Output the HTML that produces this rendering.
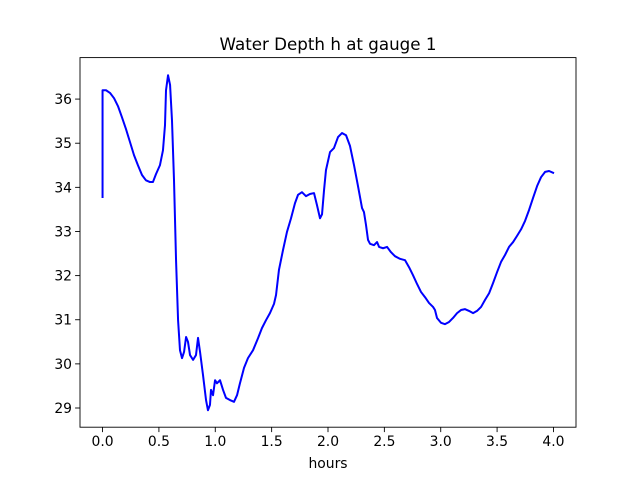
<!DOCTYPE html>
<html><head><meta charset="utf-8"><style>
body{margin:0;background:#fff}
svg{display:block;font-family:"DejaVu Sans","Liberation Sans",sans-serif}
</style></head><body>
<svg id="c" width="640" height="480">
<rect width="640" height="480" fill="#fff"/>
<text x="328" y="50" font-size="16.7" text-anchor="middle">Water Depth h at gauge 1</text>
<text x="328" y="468" font-size="13.9" text-anchor="middle">hours</text>
</svg>
<script>
const hours=[0.0,0.0,0.031,0.066,0.102,0.137,0.172,0.208,0.243,0.279,0.314,0.350,0.385,0.421,0.447,0.474,0.509,0.536,0.554,0.563,0.581,0.599,0.616,0.634,0.652,0.670,0.687,0.705,0.723,0.741,0.758,0.776,0.803,0.829,0.847,0.865,0.891,0.918,0.935,0.953,0.962,0.980,0.998,1.015,1.042,1.069,1.095,1.130,1.166,1.193,1.219,1.255,1.290,1.335,1.379,1.414,1.450,1.485,1.521,1.539,1.565,1.601,1.636,1.672,1.707,1.734,1.769,1.805,1.840,1.876,1.902,1.929,1.947,1.965,1.982,2.018,2.053,2.089,2.124,2.160,2.195,2.231,2.266,2.302,2.319,2.337,2.355,2.373,2.408,2.435,2.453,2.488,2.524,2.559,2.594,2.639,2.683,2.719,2.754,2.790,2.825,2.861,2.896,2.932,2.949,2.967,3.003,3.038,3.074,3.109,3.145,3.180,3.216,3.251,3.287,3.322,3.358,3.393,3.429,3.464,3.500,3.535,3.571,3.606,3.642,3.677,3.713,3.748,3.784,3.819,3.855,3.890,3.926,3.961,4.005];
const depth=[33.76,36.20,36.20,36.14,36.02,35.84,35.59,35.32,35.03,34.73,34.50,34.28,34.16,34.12,34.12,34.30,34.50,34.84,35.41,36.20,36.54,36.32,35.52,34.16,32.35,30.99,30.31,30.13,30.27,30.61,30.50,30.20,30.09,30.20,30.59,30.27,29.75,29.18,28.95,29.07,29.41,29.29,29.63,29.56,29.63,29.41,29.23,29.18,29.14,29.29,29.56,29.91,30.13,30.31,30.58,30.81,30.99,31.15,31.36,31.56,32.13,32.58,32.99,33.30,33.64,33.83,33.89,33.80,33.85,33.87,33.60,33.30,33.39,33.94,34.39,34.80,34.89,35.14,35.23,35.18,34.94,34.50,34.03,33.53,33.44,33.15,32.81,32.72,32.69,32.76,32.65,32.62,32.65,32.53,32.44,32.38,32.35,32.19,32.01,31.81,31.63,31.51,31.38,31.29,31.22,31.04,30.93,30.90,30.95,31.04,31.15,31.22,31.24,31.20,31.15,31.20,31.29,31.45,31.60,31.83,32.08,32.31,32.47,32.65,32.76,32.90,33.05,33.24,33.49,33.76,34.03,34.23,34.35,34.37,34.32];
const xTicks=[0,0.5,1,1.5,2,2.5,3,3.5,4];
const xTickLabels=["0.0","0.5","1.0","1.5","2.0","2.5","3.0","3.5","4.0"];
const yTicks=[29,30,31,32,33,34,35,36];
const yTickLabels=["29","30","31","32","33","34","35","36"];
const L=80,R=576,T=57.6,B=427.2,xmin=-0.2,xmax=4.2,ymin=28.565,ymax=36.94;
const sx=v=>L+(v-xmin)/(xmax-xmin)*(R-L);
const sy=v=>B-(v-ymin)/(ymax-ymin)*(B-T);
const svg=document.getElementById('c');
const NS='http://www.w3.org/2000/svg';
function mk(tag,attrs){const e=document.createElementNS(NS,tag);for(const k in attrs)e.setAttribute(k,attrs[k]);svg.appendChild(e);return e;}
let d='';
hours.forEach((h,i)=>{d+=(i?'L':'M')+sx(h).toFixed(2)+','+sy(depth[i]).toFixed(2);});
const line=mk('path',{d:d,fill:'none',stroke:'#0000ff','stroke-width':2,'stroke-linejoin':'round','stroke-linecap':'butt'});


const frame=mk('rect',{x:L,y:T,width:R-L,height:B-T,fill:'none',stroke:'#000','stroke-width':0.9});


xTicks.forEach((v,i)=>{
 const x=sx(v);
 const t=mk('line',{x1:x,x2:x,y1:B,y2:B+4.9,stroke:'#000','stroke-width':0.9});
 
 
 const l=mk('text',{x:x,y:B+19,'font-size':13.9,'text-anchor':'middle'});
 l.textContent=xTickLabels[i];
 
 
});
yTicks.forEach((v,i)=>{
 const y=sy(v);
 const t=mk('line',{x1:L-4.9,x2:L,y1:y,y2:y,stroke:'#000','stroke-width':0.9});
 
 
 const l=mk('text',{x:L-8,y:y+5,'font-size':13.9,'text-anchor':'end'});
 l.textContent=yTickLabels[i];
 
 
});
</script>
</body></html>
